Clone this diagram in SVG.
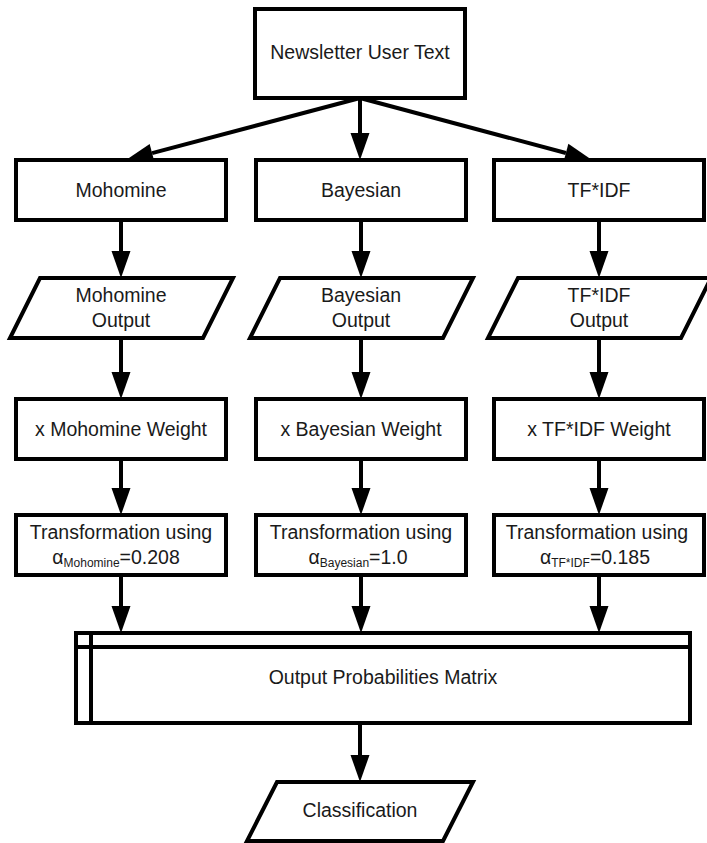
<svg xmlns="http://www.w3.org/2000/svg" width="707" height="843" viewBox="0 0 707 843">
  <defs>
    <marker id="head" markerUnits="userSpaceOnUse" markerWidth="28" markerHeight="20" refX="0" refY="9.5" orient="auto" overflow="visible">
      <path d="M0,0 L27,9.5 L0,19 Z" fill="#000"/>
    </marker>
    <style>
      .box { fill: #fff; stroke: #000; stroke-width: 4; stroke-linejoin: miter; }
      .thin { fill: none; stroke: #000; stroke-width: 4; }
      .lbl { font-family: "Liberation Sans", Arial, sans-serif; font-size: 19.5px; fill: #1a1a1a; text-anchor: middle; }
      .sub { font-size: 12px; }
      .edge { stroke: #000; stroke-width: 4; fill: none; marker-end: url(#head); }
    </style>
  </defs>

  <rect width="707" height="843" fill="#fff"/>

  <!-- connectors -->
  <g id="connectors">
    <line class="edge" x1="360" y1="98" x2="152.1" y2="153.1"/>
    <line class="edge" x1="360" y1="98" x2="360" y2="133"/>
    <line class="edge" x1="360" y1="98" x2="565.9" y2="153.0"/>

    <line class="edge" x1="121" y1="220" x2="121" y2="251"/>
    <line class="edge" x1="361" y1="220" x2="361" y2="251"/>
    <line class="edge" x1="599" y1="220" x2="599" y2="251"/>

    <line class="edge" x1="121" y1="338" x2="121" y2="372"/>
    <line class="edge" x1="361" y1="338" x2="361" y2="372"/>
    <line class="edge" x1="599" y1="338" x2="599" y2="372"/>

    <line class="edge" x1="121" y1="459" x2="121" y2="488"/>
    <line class="edge" x1="361" y1="459" x2="361" y2="488"/>
    <line class="edge" x1="599" y1="459" x2="599" y2="488"/>

    <line class="edge" x1="121" y1="575" x2="121" y2="606"/>
    <line class="edge" x1="361" y1="575" x2="361" y2="606"/>
    <line class="edge" x1="599" y1="575" x2="599" y2="606"/>

    <line class="edge" x1="360" y1="723" x2="360" y2="755"/>
  </g>

  <!-- source -->
  <g id="newsletter">
    <rect class="box" x="255" y="9" width="210" height="89"/>
    <text class="lbl" x="360" y="59">Newsletter User Text</text>
  </g>

  <!-- classifiers -->
  <g id="mohomine">
    <rect class="box" x="16" y="160" width="210" height="60"/>
    <text class="lbl" x="121" y="197">Mohomine</text>
  </g>
  <g id="bayesian">
    <rect class="box" x="256" y="160" width="210" height="60"/>
    <text class="lbl" x="361" y="197">Bayesian</text>
  </g>
  <g id="tfidf">
    <rect class="box" x="494" y="160" width="210" height="60"/>
    <text class="lbl" x="599" y="197">TF*IDF</text>
  </g>

  <!-- classifier outputs -->
  <g id="mohomine-output">
    <polygon class="box" points="40,278 233,278 203,338 10,338"/>
    <text class="lbl" x="121" y="302">Mohomine</text>
    <text class="lbl" x="121" y="327">Output</text>
  </g>
  <g id="bayesian-output">
    <polygon class="box" points="280,278 473,278 443,338 250,338"/>
    <text class="lbl" x="361" y="302">Bayesian</text>
    <text class="lbl" x="361" y="327">Output</text>
  </g>
  <g id="tfidf-output">
    <polygon class="box" points="518,278 711,278 681,338 488,338"/>
    <text class="lbl" x="599" y="302">TF*IDF</text>
    <text class="lbl" x="599" y="327">Output</text>
  </g>

  <!-- weighting -->
  <g id="mohomine-weight">
    <rect class="box" x="16" y="399" width="210" height="60"/>
    <text class="lbl" x="121" y="436">x Mohomine Weight</text>
  </g>
  <g id="bayesian-weight">
    <rect class="box" x="256" y="399" width="210" height="60"/>
    <text class="lbl" x="361" y="436">x Bayesian Weight</text>
  </g>
  <g id="tfidf-weight">
    <rect class="box" x="494" y="399" width="210" height="60"/>
    <text class="lbl" x="599" y="436">x TF*IDF Weight</text>
  </g>

  <!-- transformation -->
  <g id="mohomine-transform">
    <rect class="box" x="16" y="515" width="210" height="60"/>
    <text class="lbl" x="121" y="539">Transformation using</text>
    <text class="lbl" x="116" y="564">α<tspan class="sub" dy="3">Mohomine</tspan><tspan dy="-3">=0.208</tspan></text>
  </g>
  <g id="bayesian-transform">
    <rect class="box" x="256" y="515" width="210" height="60"/>
    <text class="lbl" x="361" y="539">Transformation using</text>
    <text class="lbl" x="358" y="564">α<tspan class="sub" dy="3">Bayesian</tspan><tspan dy="-3">=1.0</tspan></text>
  </g>
  <g id="tfidf-transform">
    <rect class="box" x="494" y="515" width="210" height="60"/>
    <text class="lbl" x="597" y="539">Transformation using</text>
    <text class="lbl" x="595" y="564">α<tspan class="sub" dy="3">TF*IDF</tspan><tspan dy="-3">=0.185</tspan></text>
  </g>

  <!-- combined matrix -->
  <g id="matrix">
    <rect class="box" x="76" y="633" width="614" height="90"/>
    <line class="thin" x1="76" y1="647" x2="690" y2="647"/>
    <line class="thin" x1="91" y1="633" x2="91" y2="723"/>
    <text class="lbl" x="383" y="684">Output Probabilities Matrix</text>
  </g>

  <!-- result -->
  <g id="classification">
    <polygon class="box" points="277,782 473,782 443,841 247,841"/>
    <text class="lbl" x="360" y="817">Classification</text>
  </g>
</svg>
